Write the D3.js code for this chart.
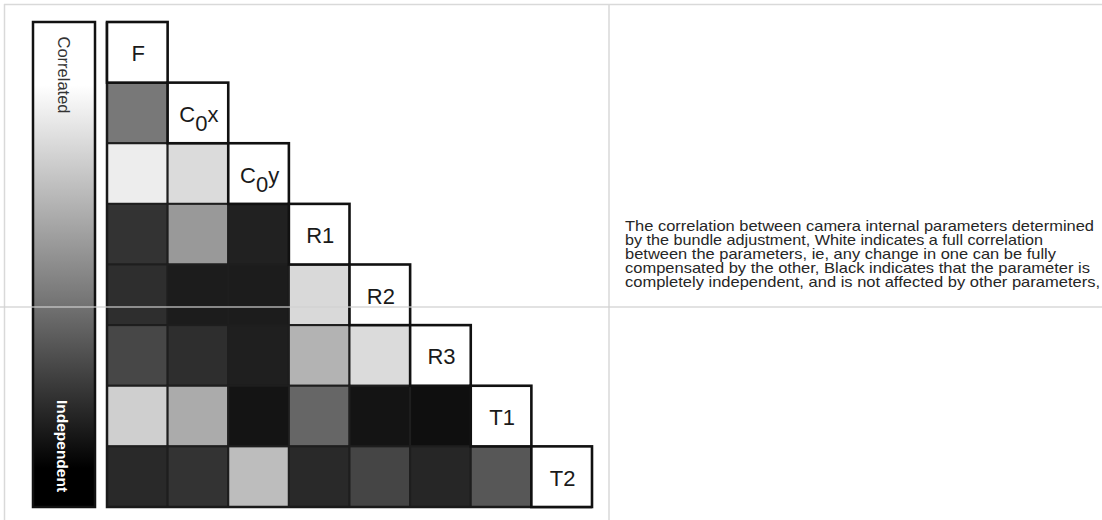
<!DOCTYPE html>
<html>
<head>
<meta charset="utf-8">
<script src="https://cdn.jsdelivr.net/npm/d3@7"></script>
<style>
  html, body { margin: 0; padding: 0; background: #fff; }
  svg { display: block; }
</style>
</head>
<body>
<svg id="chart" width="1102" height="520"></svg>
<script>
// ---- data ----
const params = ["F", "C0x", "C0y", "R1", "R2", "R3", "T1", "T2"];
const labelMain = ["F", "C", "C", "R1", "R2", "R3", "T1", "T2"];
const labelSub  = ["", "0", "0", "", "", "", "", ""];
const labelTail = ["", "x", "y", "", "", "", "", ""];
// lower-triangle correlation strength (1 = fully correlated / white, 0 = independent / black)
const rowC0x = [0.47];
const rowC0y = [0.93, 0.86];
const rowR1  = [0.20, 0.60, 0.13];
const rowR2  = [0.18, 0.11, 0.11, 0.85];
const rowR3  = [0.28, 0.18, 0.12, 0.70, 0.86];
const rowT1  = [0.81, 0.67, 0.08, 0.40, 0.08, 0.06];
const rowT2  = [0.16, 0.20, 0.74, 0.16, 0.27, 0.15, 0.34];
const rows = [[], rowC0x, rowC0y, rowR1, rowR2, rowR3, rowT1, rowT2];
const legendTop = "Correlated";
const legendBottom = "Independent";
const captionLines = [
  "The correlation between camera internal parameters determined",
  "by the bundle adjustment, White indicates a full correlation",
  "between the parameters, ie, any change in one can be fully",
  "compensated by the other, Black indicates that the parameter is",
  "completely independent, and is not affected by other parameters,"
];

// ---- drawing ----
const svg = d3.select("#chart");
const font = "'Liberation Sans', Arial, Helvetica, sans-serif";

// frame / scan lines
const frame = svg.append("g").attr("stroke", "#d9d9d9").attr("stroke-width", 1.5);
frame.append("line").attr("x1", 4).attr("x2", 1102).attr("y1", 4.5).attr("y2", 4.5);
frame.append("line").attr("x1", 4.5).attr("x2", 4.5).attr("y1", 4).attr("y2", 520);
frame.append("line").attr("x1", 609).attr("x2", 609).attr("y1", 4).attr("y2", 520);

const x = d3.scaleBand().domain(params).range([107, 592]).padding(0);
const y = d3.scaleBand().domain(params).range([22, 507]).padding(0);
const gray = d3.scaleLinear().domain([0, 1]).range(["#000", "#fff"]);

// colour bar
const defs = svg.append("defs");
const grad = defs.append("linearGradient").attr("id", "cbar")
  .attr("x1", 0).attr("x2", 0).attr("y1", 0).attr("y2", 1);
[[0, "#fff"], [0.13, "#fff"], [0.57, "#777"], [0.92, "#000"], [1, "#000"]].forEach(s =>
  grad.append("stop").attr("offset", s[0]).attr("stop-color", s[1]));

svg.append("rect").attr("x", 33).attr("y", 22).attr("width", 62).attr("height", 485)
  .attr("fill", "url(#cbar)").attr("stroke", "#111").attr("stroke-width", 2.5);

svg.append("text").attr("transform", "translate(58,75) rotate(90)")
  .attr("text-anchor", "middle").attr("font-family", font).attr("font-size", 16.5)
  .attr("fill", "#333").text(legendTop);
svg.append("text").attr("transform", "translate(57,446) rotate(90)")
  .attr("text-anchor", "middle").attr("font-family", font).attr("font-size", 15.5)
  .attr("font-weight", "bold").attr("fill", "#fff").text(legendBottom);

// off-diagonal cells
const cells = [];
rows.forEach((r, i) => r.forEach((v, j) => cells.push({ row: params[i], col: params[j], v })));
svg.append("g").selectAll("rect").data(cells).join("rect")
  .attr("x", d => x(d.col)).attr("y", d => y(d.row))
  .attr("width", x.bandwidth()).attr("height", y.bandwidth())
  .attr("fill", d => gray(d.v)).attr("stroke", "#1e1e1e").attr("stroke-width", 2);

// outer left & bottom edge
svg.append("path")
  .attr("d", `M${x.range()[0]},${y.range()[0]}V${y.range()[1]}H${x.range()[1]}`)
  .attr("fill", "none").attr("stroke", "#1a1a1a").attr("stroke-width", 2.5);

// diagonal cells
const diag = svg.append("g").selectAll("g").data(params).join("g");
diag.append("rect")
  .attr("x", d => x(d)).attr("y", d => y(d))
  .attr("width", x.bandwidth()).attr("height", y.bandwidth())
  .attr("fill", "#fff").attr("stroke", "#111").attr("stroke-width", 2.6);
const lbl = diag.append("text")
  .attr("x", d => x(d) + x.bandwidth() / 2 + 1)
  .attr("y", d => y(d) + y.bandwidth() / 2 + 9)
  .attr("text-anchor", "middle").attr("font-family", font).attr("font-size", 22)
  .attr("fill", "#1a1a1a");
lbl.append("tspan").text((d, i) => labelMain[i]);
lbl.append("tspan").attr("dy", (d, i) => labelSub[i] ? 9 : 0).text((d, i) => labelSub[i]);
lbl.append("tspan").attr("dy", (d, i) => labelSub[i] ? -9 : 0).text((d, i) => labelTail[i]);

// caption
const capWidths = [469, 418, 431, 465, 475];
svg.append("g").selectAll("text").data(captionLines).join("text")
  .attr("x", 625).attr("y", (d, i) => 230.5 + i * 14.2)
  .attr("font-family", font).attr("font-size", 14.5).attr("fill", "#262626")
  .attr("textLength", (d, i) => capWidths[i]).attr("lengthAdjust", "spacingAndGlyphs")
  .text(d => d);

// horizontal scan seam
svg.append("line").attr("x1", 0).attr("x2", 1102).attr("y1", 307).attr("y2", 307)
  .attr("stroke", "#d0d0d0").attr("stroke-width", 1.5).attr("opacity", 0.8);
</script>
</body>
</html>
